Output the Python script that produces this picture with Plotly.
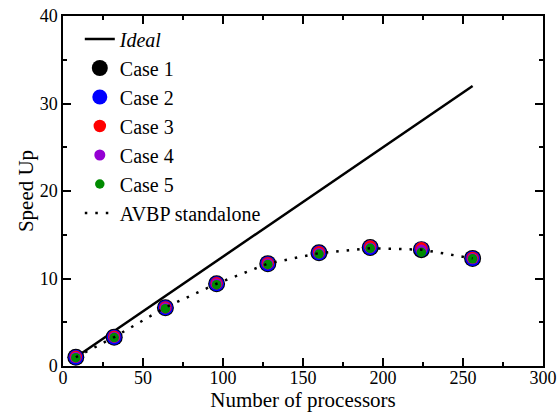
import plotly.graph_objects as go

procs = [8, 32, 64, 96, 128, 160, 192, 224, 256]
ideal = [p / 8 for p in procs]
case1 = [1.0, 3.3, 6.65, 9.4, 11.7, 12.95, 13.55, 13.3, 12.3]
case2 = [1.0, 3.3, 6.65, 9.4, 11.7, 12.95, 13.55, 13.35, 12.3]
case3 = [1.05, 3.35, 6.7, 9.45, 11.75, 13.0, 13.65, 13.45, 12.35]
case4 = [1.0, 3.3, 6.65, 9.4, 11.7, 12.9, 13.5, 13.25, 12.3]
case5 = [0.95, 3.25, 6.55, 9.3, 11.6, 12.8, 13.45, 13.0, 12.25]
avbp = [1.0, 3.3, 6.7, 9.4, 11.7, 12.9, 13.45, 13.3, 12.3]

names = ["Case 1", "Case 2", "Case 3", "Case 4", "Case 5"]
cases = [case1, case2, case3, case4, case5]
colors = ["#000000", "#0000ff", "#ff0000", "#9400d3", "#008b00"]
sizes = [17, 15, 12.5, 11, 9.5]

FONT = "Liberation Serif"

fig = go.Figure()
fig.add_trace(go.Scatter(x=procs, y=ideal, mode="lines", name="<i>Ideal</i>",
                         line=dict(color="black", width=2.5)))
for n, c, col, s in zip(names, cases, colors, sizes):
    fig.add_trace(go.Scatter(x=procs, y=c, mode="markers", name=n,
                             marker=dict(color=col, size=s, line=dict(width=0))))
fig.add_trace(go.Scatter(x=procs, y=avbp, mode="lines", name="AVBP standalone",
                         line=dict(color="black", width=2.5, dash="2.5px,8px")))

axis_common = dict(
    showline=True, linecolor="black", linewidth=1.5, mirror="allticks",
    ticks="inside", ticklen=8, tickwidth=1.5, tickcolor="black",
    showgrid=False, zeroline=False, automargin=False, ticklabeloverflow="allow",
    tickfont=dict(family=FONT, size=18, color="black"),
)
fig.update_xaxes(range=[0, 300], dtick=50, tick0=0, ticklabelstandoff=-5,
                 minor=dict(dtick=25, ticks="inside", ticklen=4, tickwidth=1.5, tickcolor="black"),
                 title=dict(text="Number of processors", font=dict(family=FONT, size=21, color="black"), standoff=4),
                 **axis_common)
fig.update_yaxes(range=[0, 40], dtick=10, tick0=0,
                 minor=dict(dtick=5, ticks="inside", ticklen=4, tickwidth=1.5, tickcolor="black"),
                 title=dict(text="Speed Up", font=dict(family=FONT, size=21, color="black"), standoff=0),
                 **axis_common)

fig.update_layout(
    width=559, height=419,
    margin=dict(l=63, r=16, t=16, b=53),
    plot_bgcolor="white", paper_bgcolor="white",
    font=dict(family=FONT, color="black"),
    legend=dict(x=0.035, y=0.99, xanchor="left", yanchor="top",
                bgcolor="rgba(0,0,0,0)", borderwidth=0,
                font=dict(family=FONT, size=20, color="black"),
                itemwidth=30, tracegroupgap=0),
)
fig.write_html("out.html", config={"displayModeBar": False},
               post_script="document.body.style.margin='0px';document.body.style.overflow='hidden';")
